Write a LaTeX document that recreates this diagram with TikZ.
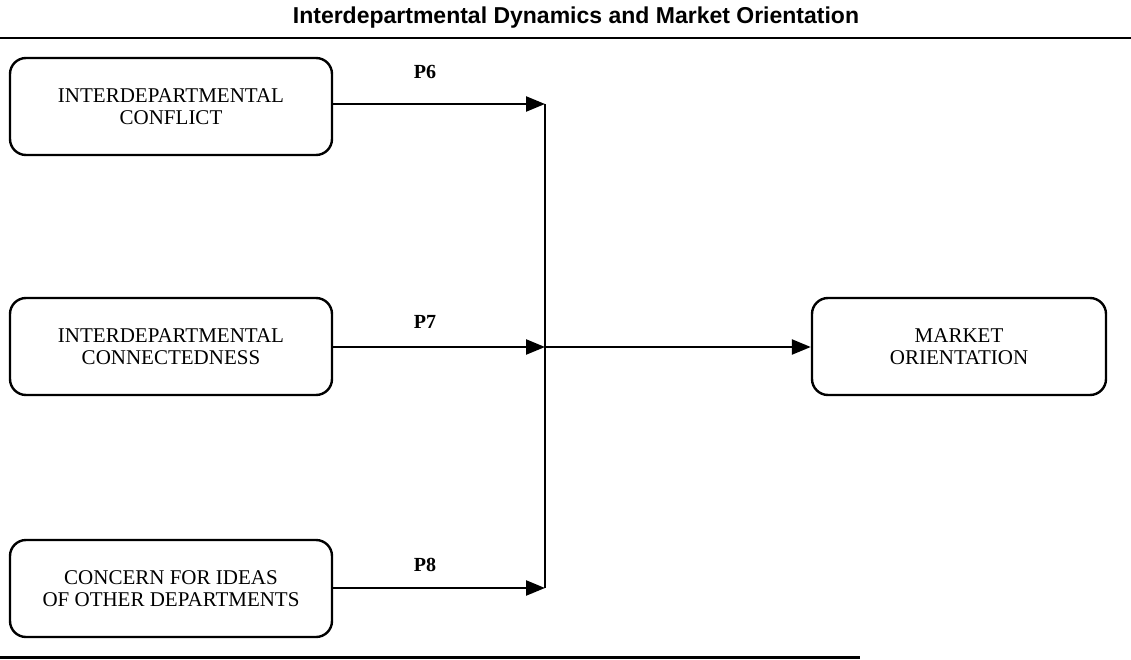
\documentclass[tikz,border=0pt]{standalone}
\usepackage{fontspec}
\setmainfont{Liberation Serif}
\setsansfont{Liberation Sans}
\usetikzlibrary{arrows.meta}
\tikzset{
  box/.style={draw, line width=2.4pt, rounded corners=16pt, minimum width=322pt, minimum height=97pt,
    align=center, font=\fontsize{21}{22}\selectfont, inner sep=0pt},
  link/.style={line width=2.4pt, -{Triangle[length=19pt,width=15pt]}},
  plabel/.style={font=\fontsize{20}{22}\selectfont\bfseries},
  rule/.style={line width=2.5pt}
}
\begin{document}
\begin{tikzpicture}[x=1pt,y=-1pt]
\useasboundingbox (0,0) rectangle (1131,660);
\node[font=\sffamily\bfseries\fontsize{23}{25}\selectfont] (title) at (576,18) {Interdepartmental Dynamics and Market Orientation};
\coordinate (tl) at (0,38); \coordinate (tr) at (1131,38);
\draw[rule] (tl) -- (tr);
\coordinate (bl) at (0,657); \coordinate (br) at (860,657);
\draw[rule, line width=3pt] (bl) -- (br);

\node[box] (b1) at (171,106.5) {INTERDEPARTMENTAL\\CONFLICT};
\node[box] (b2) at (171,346.5) {INTERDEPARTMENTAL\\CONNECTEDNESS};
\node[box] (b3) at (171,588.5) {CONCERN FOR IDEAS\\OF OTHER DEPARTMENTS};
\node[box, minimum width=294pt] (b4) at (959,346.5) {MARKET\\ORIENTATION};

\coordinate (j1) at (545,104);
\coordinate (j2) at (545,347);
\coordinate (j3) at (545,588);

\draw[link] (b1.east |- j1) -- (j1);
\draw[link] (b2.east |- j2) -- (j2);
\draw[link] (b3.east |- j3) -- (j3);
\draw[line width=2.4pt] (j1) -- (j3);
\draw[link] (j2) -- (b4.west |- j2);

\node[plabel] (p6) at (425,72) {P6};
\node[plabel] (p7) at (425,322) {P7};
\node[plabel] (p8) at (425,565) {P8};
\end{tikzpicture}
\end{document}
